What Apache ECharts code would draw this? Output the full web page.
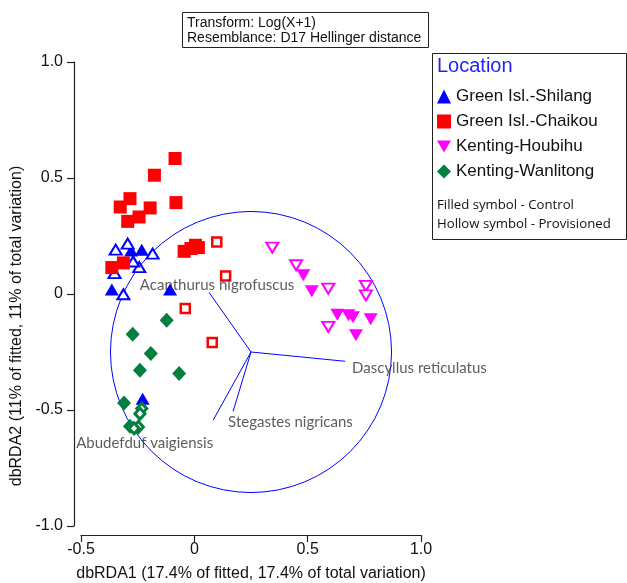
<!DOCTYPE html>
<html><head><meta charset="utf-8">
<script src="https://cdn.jsdelivr.net/npm/echarts@6/dist/echarts.min.js"></script>
<style>html,body{margin:0;padding:0;background:#fff}#c{width:627px;height:583px}</style>
</head><body><div id="c"></div>
<script>
// ---- data ----
const xTicks = [-0.5, 0, 0.5, 1.0];
const yTicks = [-1.0, -0.5, 0, 0.5, 1.0];
const locations = ['Green Isl.-Shilang', 'Green Isl.-Chaikou', 'Kenting-Houbihu', 'Kenting-Wanlitong'];
const shilangCtrl = [[-0.279,0.188],[-0.232,0.191],[-0.364,0.019],[-0.107,0.019],[-0.228,-0.451]];
const shilangProv = [[-0.347,0.191],[-0.294,0.217],[-0.184,0.174],[-0.243,0.116],[-0.27,0.14],[-0.313,-0.001],[-0.352,0.09]];
const chaikouCtrl = [[-0.085,0.584],[-0.176,0.512],[-0.284,0.411],[-0.327,0.375],[-0.195,0.371],[-0.081,0.394],[-0.244,0.332],[-0.294,0.313],[-0.045,0.184],[-0.015,0.196],[0.005,0.21],[0.018,0.2],[-0.313,0.134],[-0.364,0.114]];
const chaikouProv = [[0.099,0.224],[0.138,0.078],[-0.04,-0.063],[0.079,-0.209]];
const houbihuCtrl = [[0.481,0.081],[0.518,0.012],[0.631,-0.089],[0.68,-0.092],[0.7,-0.1],[0.778,-0.109],[0.713,-0.178]];
const houbihuProv = [[0.344,0.2],[0.449,0.124],[0.591,0.023],[0.757,0.035],[0.757,-0.006],[0.591,-0.142]];
const wanlitongCtrl = [[-0.122,-0.113],[-0.272,-0.174],[-0.192,-0.257],[-0.24,-0.329],[-0.067,-0.343],[-0.31,-0.47],[-0.284,-0.57]];
const wanlitongProv = [[-0.232,-0.494],[-0.24,-0.516],[-0.247,-0.573],[-0.266,-0.579]];
const vectorNames = ['Acanthurus nigrofuscus','Dascyllus reticulatus','Stegastes nigricans','Abudefduf vaigiensis'];
const vectorOrigin = [0.25, -0.25];
const vectorEnds = [[0.065,0.007],[0.665,-0.29],[0.171,-0.506],[0.083,-0.544]];
const circleRadius = 0.62; // in x-axis units
const titleLines = ['Transform: Log(X+1)', 'Resemblance: D17 Hellinger distance'];
const noteLines = ['Filled symbol - Control', 'Hollow symbol - Provisioned'];
const xName = 'dbRDA1 (17.4% of fitted, 17.4% of total variation)';
const yName = 'dbRDA2 (11% of fitted, 11% of total variation)';

// ---- styles ----
const BLUE='#0000ff', RED='#ff0000', MAG='#ff00ff', GREEN='#007f3f';
const DOWN='path://M0,0L2,0L1,1.7Z';
const ARIAL='Liberation Sans, Arial, sans-serif';
const fmt = v => (v === 0 ? '0' : v.toFixed(1));

function filled(name, data, symbol, size, color){
  return {type:'scatter', name, data, symbol, symbolSize:size, z:3,
    itemStyle:{color, opacity:1}, emphasis:{disabled:true}};
}
function hollow(name, data, symbol, size, color, bw){
  return {type:'scatter', name, data, symbol, symbolSize:size, z:3,
    itemStyle:{color:'#fff', borderColor:color, borderWidth:bw, opacity:1}, emphasis:{disabled:true}};
}
const labelStyles = [
  {align:'center', offset:[8,-7]},
  {align:'left', offset:[7,7]},
  {align:'left', offset:[-5,11]},
  {align:'right', offset:[0,23]}
];

const chart = echarts.init(document.getElementById('c'), null, {renderer:'canvas'});
const axisCommon = {
  type:'value', interval:0.5,
  axisLine:{show:true, onZero:false, lineStyle:{color:'#222', width:1.2}},
  axisTick:{show:true, length:7, lineStyle:{color:'#222', width:1.2}},
  splitLine:{show:false}
};
const option = {
  animation:false,
  grid:{left:81, top:62, width:340, height:464},
  xAxis:Object.assign({}, axisCommon, {min:xTicks[0], max:xTicks[xTicks.length-1], offset:9,
    axisLabel:{formatter:fmt, fontFamily:ARIAL, fontSize:16, color:'#111', margin:7}}),
  yAxis:Object.assign({}, axisCommon, {min:yTicks[0], max:yTicks[yTicks.length-1], offset:7,
    axisLabel:{formatter:fmt, fontFamily:ARIAL, fontSize:16, color:'#111', margin:11}}),
  legend:{
    data:locations, orient:'vertical', left:437, top:88, padding:0, itemWidth:14, itemHeight:14, itemGap:8,
    textStyle:{fontFamily:ARIAL, fontSize:17, color:'#111', lineHeight:17},
    selectedMode:false
  },
  series:[
    {type:'lines', coordinateSystem:'cartesian2d', z:2, silent:true,
      lineStyle:{color:BLUE, width:1, opacity:1},
      data:vectorEnds.map(e=>({coords:[vectorOrigin, e]}))},
    {type:'scatter', symbolSize:0, z:4, silent:true,
      data:vectorEnds.map((e,i)=>({value:e, name:vectorNames[i],
        label:{show:true, position:'inside', formatter:vectorNames[i], align:labelStyles[i].align,
          offset:labelStyles[i].offset, verticalAlign:'middle',
          fontFamily:'Lato, sans-serif', fontSize:15, color:'#333'}}))},
    filled(locations[0], shilangCtrl, 'triangle', [14,12], BLUE),
    hollow(locations[0]+' P', shilangProv, 'triangle', [12,10], BLUE, 2),
    filled(locations[1], chaikouCtrl, 'rect', 13, RED),
    hollow(locations[1]+' P', chaikouProv, 'rect', 9, RED, 2.5),
    filled(locations[2], houbihuCtrl, DOWN, [14,12], MAG),
    hollow(locations[2]+' P', houbihuProv, DOWN, [12,10], MAG, 2),
    filled(locations[3], wanlitongCtrl, 'diamond', [14,15], GREEN),
    hollow(locations[3]+' P', wanlitongProv, 'diamond', [10,11], GREEN, 3)
  ]
};
chart.setOption(option);

const c = chart.convertToPixel({gridIndex:0}, vectorOrigin);
const r = chart.convertToPixel({gridIndex:0}, [vectorOrigin[0]+circleRadius, vectorOrigin[1]])[0] - c[0];
const gridRect = {x:81, y:62, w:340, h:464};
chart.setOption({graphic:[
  {type:'circle', z:1, shape:{cx:c[0], cy:c[1], r:r}, style:{fill:'none', stroke:BLUE, lineWidth:1}, silent:true},
  {type:'rect', shape:{x:182.5, y:12.5, width:246, height:35}, style:{fill:'#fff', stroke:'#222', lineWidth:1}},
  {type:'text', x:187, y:23, style:{text:titleLines[0], font:'14px '+ARIAL, fill:'#111', verticalAlign:'middle'}},
  {type:'text', x:187, y:38.5, style:{text:titleLines[1], font:'14px '+ARIAL, fill:'#111', verticalAlign:'middle'}},
  {type:'rect', z:-1, shape:{x:432.5, y:53.5, width:194, height:186}, style:{fill:'#fff', stroke:'#222', lineWidth:1}},
  {type:'text', x:437, y:66, style:{text:'Location', font:'20px '+ARIAL, fill:'#1f1fff', verticalAlign:'middle'}},
  {type:'text', x:437, y:205.5, style:{text:noteLines[0], font:'13.2px "Open Sans", sans-serif', fill:'#111', verticalAlign:'middle'}},
  {type:'text', x:437, y:224.5, style:{text:noteLines[1], font:'13.2px "Open Sans", sans-serif', fill:'#111', verticalAlign:'middle'}},
  {type:'text', x:gridRect.x+gridRect.w/2, y:574, style:{text:xName, font:'16px '+ARIAL, fill:'#111', align:'center', verticalAlign:'middle'}},
  {type:'text', x:17, y:326, rotation:Math.PI/2, style:{text:yName, font:'16px '+ARIAL, fill:'#111', align:'center', verticalAlign:'middle'}}
]});
</script></body></html>
